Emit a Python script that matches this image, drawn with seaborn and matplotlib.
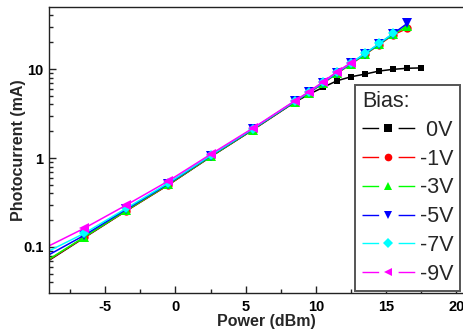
import matplotlib
matplotlib.use("Agg")
import matplotlib.pyplot as plt
from matplotlib.lines import Line2D
import numpy as np
import pandas as pd
import seaborn as sns

# Input power (dBm) and photocurrent (mA) per bias voltage
power = [-9.5, -6.5, -3.5, -0.5, 2.5, 5.5, 8.5, 9.5, 10.5, 11.5, 12.5, 13.5, 14.5, 15.5, 16.5, 17.5]
nan = np.nan
i_0v = [0.063, 0.127, 0.255, 0.50, 1.03, 2.07, 4.25, 5.2, 6.22, 7.39, 8.19, 8.78, 9.50, 9.93, 10.2, 10.3]
i_1v = [0.064, 0.128, 0.256, 0.50, 1.04, 2.08, 4.30, 5.40, 6.90, 8.95, 11.4, 14.6, 18.8, 24.3, 28.6, nan]
i_3v = [0.065, 0.129, 0.258, 0.505, 1.04, 2.09, 4.30, 5.42, 6.95, 9.0, 11.5, 14.7, 19.0, 24.6, 30.5, nan]
i_5v = [0.074, 0.135, 0.265, 0.515, 1.06, 2.11, 4.33, 5.45, 7.0, 9.1, 11.6, 14.9, 19.2, 25.0, 32.6, nan]
i_7v = [0.0825, 0.142, 0.272, 0.525, 1.07, 2.13, 4.36, 5.50, 7.1, 9.2, 11.7, 15.0, 19.4, 25.2, nan, nan]
i_9v = [0.094, 0.162, 0.296, 0.552, 1.10, 2.16, 4.40, 5.56, 7.19, 9.33, 11.8, nan, nan, nan, nan, nan]

biases = [" 0V", "-1V", "-3V", "-5V", "-7V", "-9V"]
currents = [i_0v, i_1v, i_3v, i_5v, i_7v, i_9v]
colors = ["#000000", "#ff0000", "#00ff00", "#0000ff", "#00ffff", "#ff00ff"]
markers = ["s", "o", "^", "v", "D", "<"]
sizes = [5, 6, 6.5, 6.5, 5.5, 7.5]

df = pd.concat(
    [pd.DataFrame({"power": power, "current": c, "bias": b}) for b, c in zip(biases, currents)],
    ignore_index=True,
).dropna()

sns.set_style("ticks")
plt.rcParams["font.family"] = ["Liberation Sans", "DejaVu Sans"]
plt.rcParams["axes.unicode_minus"] = False

fig = plt.figure(figsize=(4.64, 3.29), dpi=100)
ax = fig.add_axes([49 / 464, 36 / 329, 435.6 / 464, 286 / 329])
ax.set_yscale("log")

for b, col, m, s in zip(biases, colors, markers, sizes):
    sub = df[df["bias"] == b]
    sns.lineplot(
        data=sub, x="power", y="current", ax=ax, color=col, marker=m,
        markersize=s, markeredgewidth=0, linewidth=1.1, errorbar=None, legend=False,
    )

ax.set_xlim(-9, 22)
ax.set_ylim(0.0304, 49.8)
ax.set_xticks([-5, 0, 5, 10, 15, 20])
ax.set_xticks(np.arange(-7.5, 22, 5), minor=True)
ax.set_yticks([0.1, 1, 10])
ax.set_yticklabels(["0.1", "1", "10"])
ax.tick_params(which="both", direction="in", width=1.0, colors="#222222")
ax.tick_params(which="major", length=5, labelsize=10.5)
ax.tick_params(which="minor", length=3)
ax.tick_params(axis="x", pad=5)
ax.tick_params(axis="y", pad=4)
for lab in ax.get_xticklabels() + ax.get_yticklabels():
    lab.set_fontweight("bold")
    lab.set_color("black")
for sp in ax.spines.values():
    sp.set_linewidth(1.0)
    sp.set_color("#222222")
    sp.set_visible(True)

ax.set_xlabel("Power (dBm)", fontsize=11.5, fontweight="bold", labelpad=0)
ax.set_ylabel("Photocurrent (mA)", fontsize=11.5, fontweight="bold", labelpad=-2)

handles = [
    Line2D([], [], color=col, marker=m, markersize=5.5, markeredgewidth=0,
           linewidth=1.0, dashes=(12, 14))
    for col, m in zip(colors, markers)
]
leg = ax.legend(
    handles, biases, title="Bias:", loc="lower right",
    bbox_to_anchor=(460 / 464, 38 / 329), bbox_transform=fig.transFigure,
    borderaxespad=0, fontsize=15.5, title_fontsize=15.5, handlelength=2.45,
    handletextpad=0.25, labelspacing=0.36, borderpad=0.3, fancybox=False,
    framealpha=1, edgecolor="#555555", alignment="left",
)
leg.get_frame().set_linewidth(1.4)

fig.savefig("out.png", dpi=100)
